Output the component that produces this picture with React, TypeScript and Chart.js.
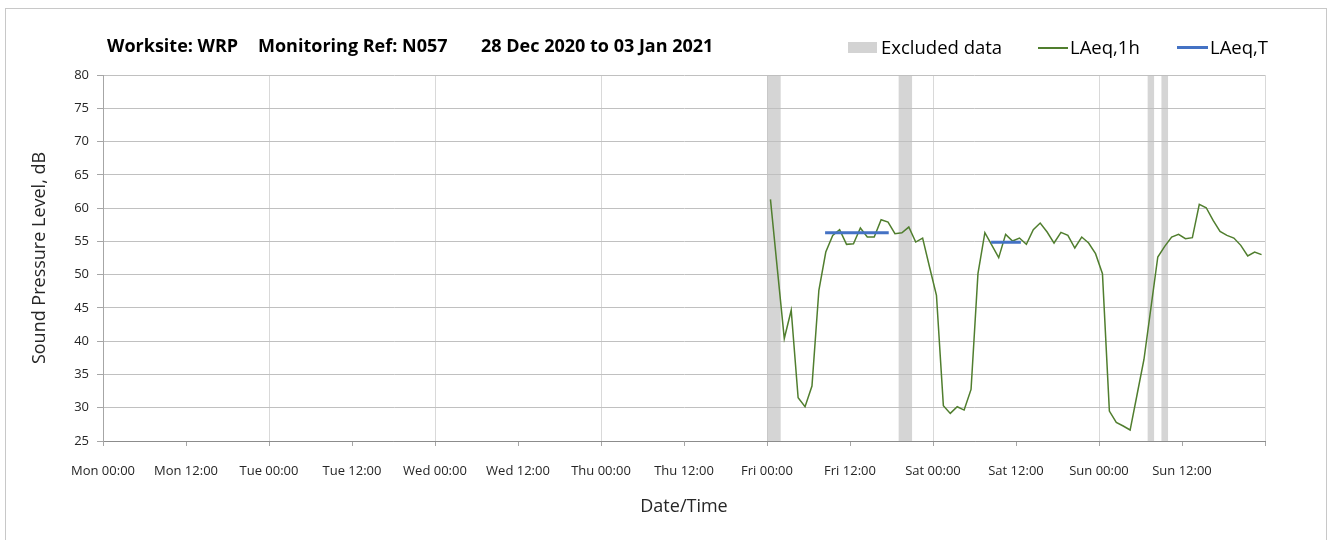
import React, { useEffect, useRef } from 'react';
import { Chart, registerables } from 'chart.js';

Chart.register(...registerables);

// Hour offsets from Mon 00:00 (28 Dec 2020) for each hourly LAeq,1h value
const laeq1hHours = [
  96.5, 97.5, 98.5, 99.5, 100.5, 101.5, 102.5, 103.5, 104.5, 105.5,
  106.5, 107.5, 108.5, 109.5, 110.5, 111.5, 112.5, 113.5, 114.5, 115.5,
  116.5, 117.5, 118.5, 119.5, 120.5, 121.5, 122.5, 123.5, 124.5, 125.5,
  126.5, 127.5, 128.5, 129.5, 130.5, 131.5, 132.5, 133.5, 134.5, 135.5,
  136.5, 137.5, 138.5, 139.5, 140.5, 141.5, 142.5, 143.5, 144.5, 145.5,
  146.5, 147.5, 148.5, 149.5, 150.5, 151.5, 152.5, 153.5, 154.5, 155.5,
  156.5, 157.5, 158.5, 159.5, 160.5, 161.5, 162.5, 163.5, 164.5, 165.5,
  166.5, 167.5,
];

const laeq1hValues = [
  61.3, 50.8, 40.4, 44.65, 31.5, 30.15, 33.25, 47.65, 53.4, 55.9,
  56.75, 54.55, 54.65, 57.0, 55.65, 55.65, 58.25, 57.9, 56.15, 56.3,
  57.15, 54.9, 55.5, 51.15, 46.9, 30.3, 29.15, 30.15, 29.65, 32.75,
  50.15, 56.3, 54.45, 52.55, 56.05, 55.05, 55.5, 54.55, 56.75, 57.75,
  56.4, 54.75, 56.35, 55.9, 54.0, 55.65, 54.75, 53.15, 50.15, 29.5,
  27.8, 27.25, 26.65, 31.95, 37.25, 44.95, 52.65, 54.25, 55.65, 56.05,
  55.4, 55.55, 60.55, 60.05, 58.15, 56.5, 55.9, 55.5, 54.4, 52.8,
  53.4, 53.0,
];

// LAeq,T periods
const laeqTStart = [104.4, 128.4];
const laeqTEnd = [113.6, 132.7];
const laeqTValue = [56.3, 54.85];

// Excluded data periods (hours)
const excludedStart = [96, 115, 151, 153];
const excludedEnd = [98, 117, 152, 154];

const xTickLabels = [
  'Mon 00:00', 'Mon 12:00', 'Tue 00:00', 'Tue 12:00', 'Wed 00:00', 'Wed 12:00',
  'Thu 00:00', 'Thu 12:00', 'Fri 00:00', 'Fri 12:00', 'Sat 00:00', 'Sat 12:00',
  'Sun 00:00', 'Sun 12:00', '',
];

const yMin = 25;
const yMax = 80;

const titleParts = ['Worksite: WRP', 'Monitoring Ref: N057', '28 Dec 2020 to 03 Jan 2021'];
const legendLabels = ['Excluded data', 'LAeq,1h', 'LAeq,T'];

const GREEN = '#507e2e';
const BLUE = '#4472C4';
const BAND = 'rgba(190,190,190,0.65)';
const FONT = "'Open Sans', sans-serif";

export default function App() {
  const canvasRef = useRef<HTMLCanvasElement | null>(null);

  useEffect(() => {
    const canvas = canvasRef.current;
    if (!canvas) return;

    const laeqTData: any[] = [];
    laeqTStart.forEach((s, i) => {
      laeqTData.push({ x: s, y: laeqTValue[i] });
      laeqTData.push({ x: laeqTEnd[i], y: laeqTValue[i] });
      laeqTData.push({ x: laeqTEnd[i], y: null });
    });

    const bandSets = excludedStart.map((s, i) => ({
      label: 'Excluded data',
      data: [
        { x: s, y: yMax },
        { x: excludedEnd[i], y: yMax },
      ],
      borderWidth: 0,
      borderColor: 'rgba(0,0,0,0)',
      backgroundColor: BAND,
      pointRadius: 0,
      fill: { target: { value: yMin } },
      order: 10,
    }));

    const chart = new Chart(canvas, {
      type: 'line',
      data: {
        datasets: [
          {
            label: 'LAeq,T',
            data: laeqTData,
            borderColor: BLUE,
            borderWidth: 3,
            pointRadius: 0,
            spanGaps: false,
            fill: false,
            order: 0,
          },
          {
            label: 'LAeq,1h',
            data: laeq1hHours.map((h, i) => ({ x: h, y: laeq1hValues[i] })),
            borderColor: GREEN,
            borderWidth: 1.5,
            pointRadius: 0,
            tension: 0,
            fill: false,
            order: 1,
          },
          ...bandSets,
        ] as any,
      },
      options: {
        animation: false,
        responsive: false,
        events: [],
        layout: { padding: { top: 75, right: 71, left: 0, bottom: 0 } },
        plugins: {
          legend: { display: false },
          tooltip: { enabled: false },
          title: { display: false },
        },
        scales: {
          x: {
            type: 'linear',
            min: 0,
            max: 168,
            afterFit: (s: any) => {
              s.height = 99;
            },
            ticks: {
              stepSize: 12,
              autoSkip: false,
              maxRotation: 0,
              padding: 17,
              color: '#262626',
              font: { family: FONT, size: 13 },
              callback: (v: any) => xTickLabels[Math.round(Number(v) / 12)] ?? '',
            },
            grid: {
              color: (ctx: any) =>
                ctx.tick && Math.round(ctx.tick.value) % 24 === 0 ? '#d9d9d9' : 'rgba(0,0,0,0)',
              tickColor: '#a6a6a6',
              tickLength: 5,
              lineWidth: 1,
            },
            border: { color: '#8c8c8c', width: 1 },
            title: {
              display: true,
              text: 'Date/Time',
              color: '#262626',
              font: { family: FONT, size: 18 },
              padding: { top: 0, bottom: 22 },
            },
          },
          y: {
            min: yMin,
            max: yMax,
            afterFit: (s: any) => {
              s.width = 103;
            },
            ticks: {
              stepSize: 5,
              padding: 8,
              color: '#262626',
              font: { family: FONT, size: 13 },
            },
            grid: {
              color: '#c0c0c0',
              tickColor: '#a6a6a6',
              tickLength: 6,
              lineWidth: 1,
            },
            border: { color: '#a6a6a6', width: 1 },
            title: {
              display: true,
              text: 'Sound Pressure Level, dB',
              color: '#262626',
              font: { family: FONT, size: 18 },
              padding: { top: 29, bottom: 0 },
            },
          },
        },
      } as any,
    });

    return () => chart.destroy();
  }, []);

  const titleLefts = [107, 258, 481];
  const textStyle: React.CSSProperties = {
    position: 'absolute',
    fontFamily: FONT,
    whiteSpace: 'pre',
    lineHeight: '20px',
    color: '#000',
  };

  return (
    <div
      style={{
        position: 'fixed',
        left: 0,
        top: 0,
        width: 1336,
        height: 540,
        overflow: 'hidden',
        background: '#fff',
      }}
    >
      <div
        style={{
          position: 'absolute',
          left: 5,
          top: 8,
          width: 1322,
          height: 560,
          border: '1px solid #c8c8c8',
          boxSizing: 'border-box',
        }}
      />
      <canvas
        ref={canvasRef}
        width={1336}
        height={540}
        style={{ position: 'absolute', left: 0, top: 0, display: 'block' }}
      />
      {titleParts.map((t, i) => (
        <span
          key={t}
          style={{ ...textStyle, left: titleLefts[i], top: 35, fontSize: 18, fontWeight: 700 }}
        >
          {t}
        </span>
      ))}
      <div
        style={{ position: 'absolute', left: 848, top: 42, width: 29, height: 11, background: '#d3d3d3' }}
      />
      <span style={{ ...textStyle, left: 881, top: 37, fontSize: 18.5 }}>{legendLabels[0]}</span>
      <div
        style={{ position: 'absolute', left: 1038, top: 47, width: 30, height: 1.5, background: GREEN }}
      />
      <span style={{ ...textStyle, left: 1070, top: 37, fontSize: 18.5 }}>{legendLabels[1]}</span>
      <div
        style={{ position: 'absolute', left: 1177, top: 46, width: 31, height: 3, background: BLUE }}
      />
      <span style={{ ...textStyle, left: 1210, top: 37, fontSize: 18.5 }}>{legendLabels[2]}</span>
    </div>
  );
}
